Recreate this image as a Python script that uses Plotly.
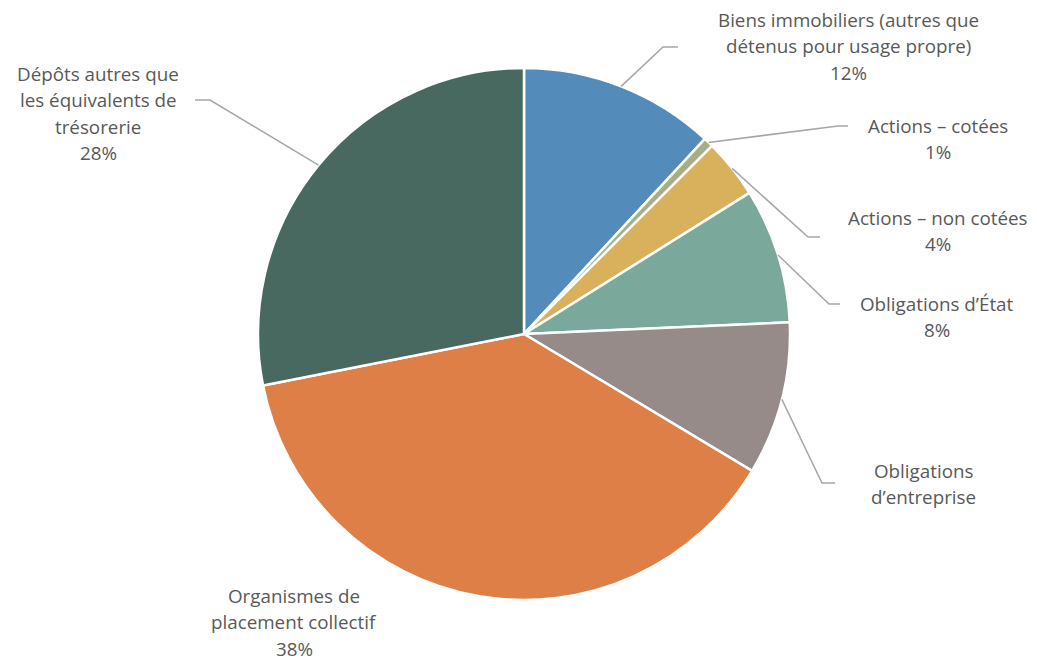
import math
import plotly.graph_objects as go

# ---- data ----
categories = [
    "Biens immobiliers (autres que<br>détenus pour usage propre)",
    "Actions – cotées",
    "Actions – non cotées",
    "Obligations d’État",
    "Obligations<br>d’entreprise",
    "Organismes de<br>placement collectif",
    "Dépôts autres que<br>les équivalents de<br>trésorerie",
]
values = [11.9, 0.6, 3.6, 8.2, 9.3, 38.3, 28.1]
show_pct = [True, True, True, True, False, True, True]
colors = ["#538BBB", "#A5AE84", "#D9B15D", "#7AA89A", "#968B88", "#DD7F47", "#47695F"]

# ---- layout constants (pixels) ----
W, H = 1037, 664
CX, CY, R = 524, 334, 266
# elbow / end of leader line
leader = [
    ((663, 47), (678, 47)),
    ((838, 126), (848, 126)),
    ((808, 237), (820, 237)),
    ((829, 304), (840, 304)),
    ((822, 483), (835, 483)),
    None,
    ((210, 100), (195, 100)),
]
# centre x and first-line centre y of each label block
label_pos = [(848, 20), (938, 126), (938, 218), (937, 304), (923, 471), (294, 596), (98, 74)]
LINE_H = 26.3

TEXT_COLOR = "#595959"
LINE_COLOR = "#A6A6A6"
FONT = "Open Sans"
FS = 18.8

def px(x, y):
    return x / W, 1 - y / H

fig = go.Figure()
fig.add_trace(go.Pie(
    values=values,
    labels=[c.replace("<br>", " ") for c in categories],
    marker=dict(colors=colors, line=dict(color="white", width=2.5)),
    sort=False,
    direction="clockwise",
    rotation=0,
    textinfo="none",
    hoverinfo="label+percent",
    showlegend=False,
    domain=dict(x=[(CX - R) / W, (CX + R) / W], y=[(H - CY - R) / H, (H - CY + R) / H]),
))

total = sum(values)
cum = 0.0
shapes = []
annotations = []
for i, v in enumerate(values):
    mid = (cum + v / 2) / total * 2 * math.pi
    cum += v
    ex, ey = CX + R * math.sin(mid), CY - R * math.cos(mid)
    if leader[i] is not None:
        (bx, by), (tx, ty) = leader[i]
        p0, p1, p2 = px(ex, ey), px(bx, by), px(tx, ty)
        shapes.append(dict(
            type="path", xref="paper", yref="paper",
            path=f"M {p0[0]},{p0[1]} L {p1[0]},{p1[1]} L {p2[0]},{p2[1]}",
            line=dict(color=LINE_COLOR, width=1.5),
        ))
    lines = categories[i].split("<br>")
    if show_pct[i]:
        lines.append(f"{round(v / total * 100)}%")
    x0, y0 = label_pos[i]
    for k, line in enumerate(lines):
        lx, ly = px(x0, y0 + k * LINE_H)
        annotations.append(dict(
            x=lx, y=ly, xref="paper", yref="paper", text=line, showarrow=False,
            xanchor="center", yanchor="middle", align="center", borderpad=0,
            font=dict(family=FONT, size=FS, color=TEXT_COLOR),
        ))

fig.update_layout(
    width=W, height=H,
    margin=dict(l=0, r=0, t=0, b=0),
    paper_bgcolor="white", plot_bgcolor="white",
    shapes=shapes, annotations=annotations,
)
fig.write_html("out.html")
